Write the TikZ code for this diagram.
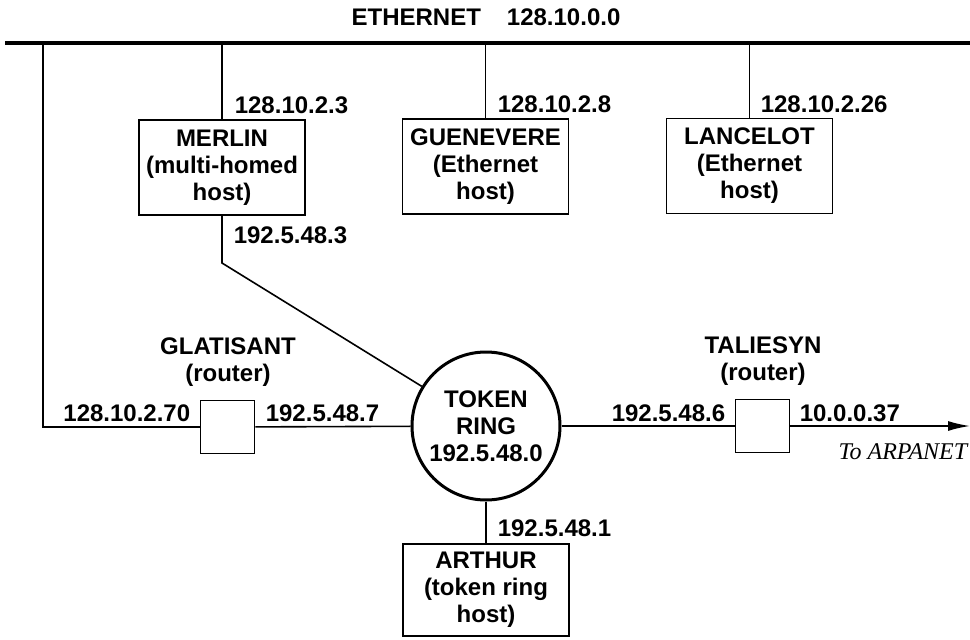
\documentclass[tikz,border=0pt]{standalone}
\usepackage{fontspec}
\setmainfont{Liberation Sans}
\newfontfamily\arpafont{Liberation Serif}
\usetikzlibrary{arrows.meta}

\begin{document}
\begin{tikzpicture}[x=1pt, y=-1pt, line width=1.6pt,
	font=\fontsize{24}{27}\selectfont\bfseries,
	host/.style={draw, align=center, minimum width=166pt, minimum height=95pt, inner sep=0pt},
	router/.style={draw, minimum width=54pt, minimum height=53pt, inner sep=0pt},
	addr/.style={anchor=west, inner sep=0pt},
	ring/.style={draw, circle, line width=3pt, minimum size=148pt, align=center, inner sep=0pt}]
	\useasboundingbox (0,0) rectangle (970,640);
	% ethernet backbone
	\node (eth) at (486,17) {ETHERNET\hspace{26pt}128.10.0.0};
	\coordinate (busl) at (5,43);
	\coordinate (busr) at (970,43);
	\draw[line width=3.5pt] (busl) -- (busr);
	% hosts
	\node[host] (merlin) at (222,167.5) {MERLIN\\(multi-homed\\host)};
	\node[host] (guenevere) at (485.5,166.5) {GUENEVERE\\(Ethernet\\host)};
	\node[host] (lancelot) at (749.5,166) {LANCELOT\\(Ethernet\\host)};
	\node[host, minimum height=92pt] (arthur) at (486,590) {ARTHUR\\(token ring\\host)};
	\node[ring] (ring) at (486,426) {TOKEN\\RING\\192.5.48.0};
	% routers
	\node[router] (glatisant) at (227.5,427) {};
	\node[router] (taliesyn) at (762.5,426) {};
	\node (glatname) at (228,362) [align=center, inner sep=0pt] {GLATISANT\\(router)};
	\node (taliname) at (763,361) [align=center, inner sep=0pt] {TALIESYN\\(router)};
	\coordinate (drop) at (43,427);
	\coordinate (bend) at (222,263);
	\coordinate (arpanet) at (970,426);
	% addresses
	\node[addr] (a1) at (234,105) {128.10.2.3};
	\node[addr] (a2) at (497,104) {128.10.2.8};
	\node[addr] (a3) at (760,104) {128.10.2.26};
	\node[addr] (a4) at (233,235) {192.5.48.3};
	\node[addr, anchor=east] (a5) at (191,413) {128.10.2.70};
	\node[addr] (a6) at (265,413) {192.5.48.7};
	\node[addr, anchor=east] (a7) at (726,413) {192.5.48.6};
	\node[addr] (a8) at (799,413) {10.0.0.37};
	\node[addr] (a9) at (497,528) {192.5.48.1};
	\node[addr, anchor=east, font=\fontsize{24}{27}\arpafont\itshape] (arpa) at (968,452) {To ARPANET};
	% links
	\draw (merlin) -- (merlin |- busl);
	\draw (guenevere) -- (guenevere |- busl);
	\draw (lancelot) -- (lancelot |- busl);
	\draw (drop |- busl) -- (drop) -- (glatisant);
	\draw (glatisant) -- (ring);
	\draw (merlin) -- (bend) -- (ring);
	\draw (ring) -- (arthur);
	\draw (ring) -- (taliesyn);
	\draw[-{Latex[length=22pt,width=10pt]}] (taliesyn) -- (arpanet);
\end{tikzpicture}
\end{document}
